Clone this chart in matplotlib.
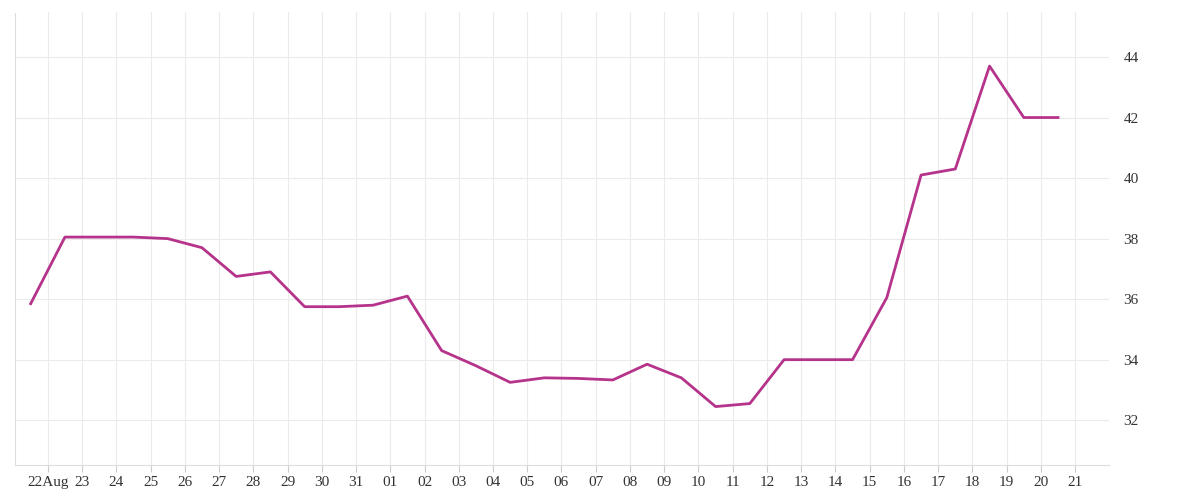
import matplotlib
matplotlib.use("Agg")
import matplotlib.pyplot as plt
import datetime as dt

dates = [dt.datetime(2023,8,21,12)+dt.timedelta(days=i) for i in range(31)]
values = [35.85,38.05,38.05,38.05,38.0,37.7,36.75,36.9,35.75,35.75,35.8,36.1,
          34.3,33.8,33.25,33.4,33.38,33.33,33.85,33.4,32.45,32.55,34.0,34.0,34.0,
          36.05,40.1,40.3,43.7,42.0,42.0]
tick_dates = [dt.datetime(2023,8,22)+dt.timedelta(days=i) for i in range(31)]
tick_labels = [("22Aug" if i==0 else d.strftime("%d")) for i,d in enumerate(tick_dates)]
yticks = [32,34,36,38,40,42,44]

plt.rcParams['font.family'] = ['Liberation Serif','DejaVu Serif']
fig = plt.figure(figsize=(12,5), dpi=100)
ax = fig.add_axes([0.0125, 0.07, 0.912, 0.905])
ax.plot(dates, values, color='#b5338a', lw=2)
ax.set_xlim(dt.datetime(2023,8,21,1), dt.datetime(2023,9,22))
ax.set_ylim(30.52, 45.47)
ax.set_xticks(tick_dates)
ax.set_xticklabels(tick_labels, fontsize=11, color='#333333')
ax.set_yticks(yticks)
ax.yaxis.tick_right()
ax.set_yticklabels([str(v) for v in yticks], fontsize=11, color='#333333')
ax.grid(True, color='#ebebeb', lw=0.8)
for s in ['top','right']:
    ax.spines[s].set_visible(False)
ax.spines['left'].set_color('#dddddd')
ax.spines['bottom'].set_color('#dddddd')
ax.tick_params(axis='x', length=5, color='#cccccc', pad=3)
ax.tick_params(axis='y', length=0, pad=10)
fig.savefig("out.png", dpi=100)
